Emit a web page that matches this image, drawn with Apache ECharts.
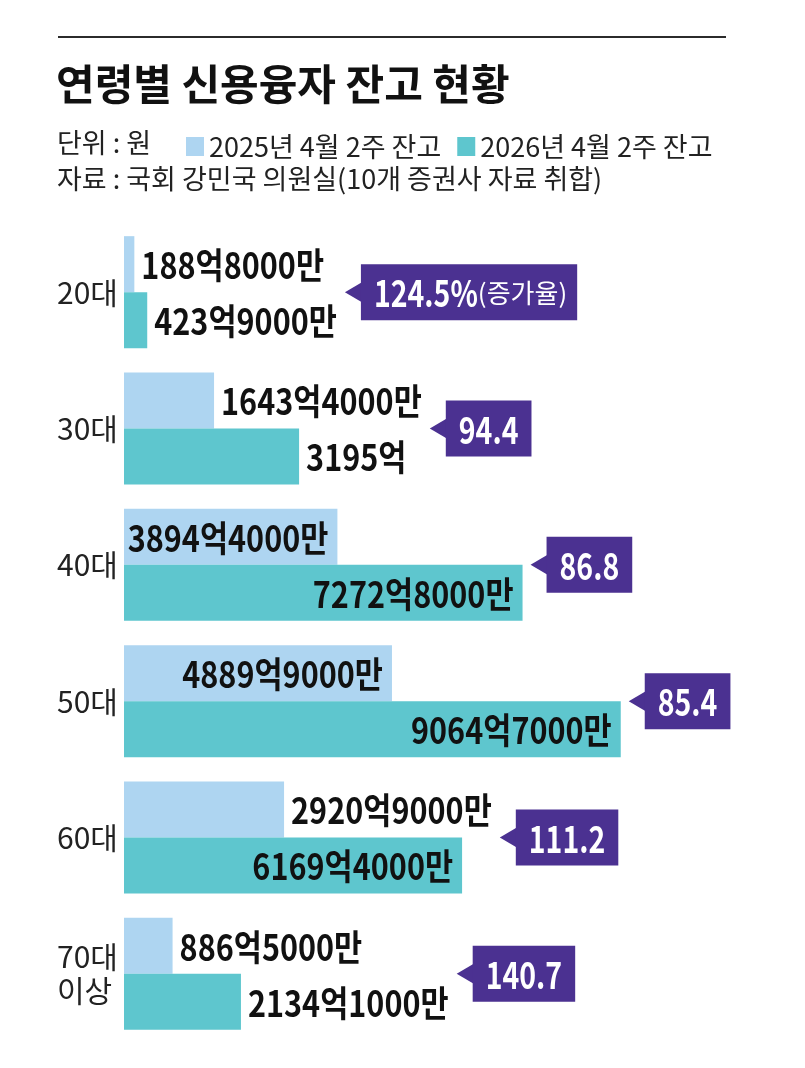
<!DOCTYPE html>
<html>
<head>
<meta charset="utf-8">
<script src="https://cdn.jsdelivr.net/npm/echarts@6/dist/echarts.min.js"></script>
<style>
html,body{margin:0;padding:0;background:#fff;}
#chart{width:805px;height:1068px;}
</style>
</head>
<body>
<div id="chart"></div>
<script>
const categories = ['20대', '30대', '40대', '50대', '60대', '70대\n이상'];
const seriesNames = ['2025년 4월 2주 잔고', '2026년 4월 2주 잔고'];
const balance2025 = [188.8, 1643.4, 3894.4, 4889.9, 2920.9, 886.5];   // 억원
const balance2026 = [423.9, 3195, 7272.8, 9064.7, 6169.4, 2134.1];    // 억원
const growthRates = [124.5, 94.4, 86.8, 85.4, 111.2, 140.7];          // %

const COLOR_2025 = '#aed5f1';
const COLOR_2026 = '#5ec6ce';
const PURPLE = '#4b3191';
const KR_FAMILY = '"Noto Sans CJK KR", sans-serif';
const BAR_W = 56;
const LABEL_SIZE = 36;
const LABEL_SCALE = 0.85;
const LABEL_FONT = 'bold ' + LABEL_SIZE + 'px ' + KR_FAMILY;
const CALL_SIZE = 37;
const CALL_SCALE = 0.77;
const CALL_FONT = 'bold ' + CALL_SIZE + 'px ' + KR_FAMILY;
const SUB_FONT = 'normal 26px ' + KR_FAMILY;
const INSIDE_MIN = 3500;
const GAP_OUT = 7;
const GAP_IN = 9;

const mctx = document.createElement('canvas').getContext('2d');
function textWidth(t, font) { mctx.font = font; return mctx.measureText(t).width; }

function fmtEok(v) {
  const eok = Math.floor(v);
  const man = Math.round((v - eok) * 10000);
  return eok + '억' + (man ? man + '만' : '');
}

const chart = echarts.init(document.getElementById('chart'), null, { renderer: 'canvas' });

function makeLabelRenderer(k) {
  return function (params, api) {
    const v = api.value(0);
    const idx = api.value(1);
    const yc = api.coord([0, idx])[1] + (k === 0 ? -BAR_W / 2 : BAR_W / 2) + 1;
    const xEnd = api.coord([v, idx])[0];
    const inside = v >= INSIDE_MIN;
    return {
      type: 'text',
      x: inside ? xEnd - GAP_IN : xEnd + GAP_OUT,
      y: yc,
      scaleX: LABEL_SCALE,
      style: {
        text: fmtEok(v),
        font: LABEL_FONT,
        fill: '#111',
        align: inside ? 'right' : 'left',
        verticalAlign: 'middle'
      }
    };
  };
}

function renderCallout(params, api) {
  const idx = api.value(1);
  const rate = api.value(2);
  const y = api.coord([0, idx])[1];
  let right = 0;
  [balance2025[idx], balance2026[idx]].forEach(v => {
    const end = api.coord([v, idx])[0];
    const r = v >= INSIDE_MIN ? end : end + GAP_OUT + textWidth(fmtEok(v), LABEL_FONT) * LABEL_SCALE;
    right = Math.max(right, r);
  });
  const tipX = right + 8;
  const arrowW = 16, arrowH = 10, boxH = 56, padL = 13, padR = 13;
  const mainText = rate.toFixed(1) + (idx === 0 ? '%' : '');
  const subText = idx === 0 ? '(증가율)' : '';
  const mainW = textWidth(mainText, CALL_FONT) * CALL_SCALE;
  const subW = subText ? textWidth(subText, SUB_FONT) : 0;
  const x0 = tipX + arrowW;
  const boxW = mainW + subW + padL + padR - (subText ? 3 : 0);
  const children = [
    { type: 'polygon', shape: { points: [[tipX, y], [x0 + 1, y - arrowH], [x0 + 1, y + arrowH]] }, style: { fill: PURPLE } },
    { type: 'rect', shape: { x: x0, y: y - boxH / 2, width: boxW, height: boxH }, style: { fill: PURPLE } },
    {
      type: 'text', x: x0 + padL, y: y + 1, scaleX: CALL_SCALE,
      style: { text: mainText, font: CALL_FONT, fill: '#fff', align: 'left', verticalAlign: 'middle' }
    }
  ];
  if (subText) {
    children.push({
      type: 'text', x: x0 + padL + mainW, y: y + 1,
      style: { text: subText, font: SUB_FONT, fill: '#fff', align: 'left', verticalAlign: 'middle' }
    });
  }
  return { type: 'group', children: children };
}

const option = {
  animation: false,
  backgroundColor: '#fff',
  graphic: [
    { type: 'line', shape: { x1: 58, y1: 37, x2: 726, y2: 37 }, style: { stroke: '#2b2b2b', lineWidth: 2 } },
    { type: 'text', left: 56, top: 63, style: { text: '연령별 신용융자 잔고 현황', fontFamily: KR_FAMILY, fontWeight: 'bold', fontSize: 42, fill: '#111' } },
    { type: 'text', left: 57, top: 129, style: { text: '단위 : 원', fontFamily: KR_FAMILY, fontSize: 27, fill: '#222' } },
    { type: 'text', left: 57, top: 165, style: { text: '자료 : 국회 강민국 의원실(10개 증권사 자료 취합)', fontFamily: KR_FAMILY, fontSize: 27, fill: '#222' } }
  ],
  legend: {
    left: 186, top: 133, padding: 0,
    icon: 'rect', itemWidth: 18, itemHeight: 19, itemGap: 16,
    selectedMode: false,
    data: seriesNames,
    textStyle: { fontFamily: KR_FAMILY, fontSize: 27, color: '#222', lineHeight: 19 }
  },
  grid: { left: 124, top: 224, width: 548, height: 818, containLabel: false },
  xAxis: { type: 'value', min: 0, max: 10000, show: false },
  yAxis: {
    type: 'category', data: categories, inverse: true,
    axisLine: { show: false }, axisTick: { show: false }, splitLine: { show: false },
    axisLabel: { align: 'left', margin: 67, fontFamily: KR_FAMILY, fontSize: 30, color: '#222', lineHeight: 34 }
  },
  series: [
    { name: seriesNames[0], type: 'bar', data: balance2025, barWidth: BAR_W, barGap: '0%', itemStyle: { color: COLOR_2025 } },
    { name: seriesNames[1], type: 'bar', data: balance2026, barWidth: BAR_W, barGap: '0%', itemStyle: { color: COLOR_2026 } },
    {
      type: 'custom', coordinateSystem: 'cartesian2d', clip: false, z: 5, silent: true,
      encode: { x: 0, y: 1 },
      data: balance2025.map((v, i) => [v, i]),
      renderItem: makeLabelRenderer(0)
    },
    {
      type: 'custom', coordinateSystem: 'cartesian2d', clip: false, z: 5, silent: true,
      encode: { x: 0, y: 1 },
      data: balance2026.map((v, i) => [v, i]),
      renderItem: makeLabelRenderer(1)
    },
    {
      type: 'custom', coordinateSystem: 'cartesian2d', clip: false, z: 10, silent: true,
      encode: { x: 0, y: 1 },
      data: growthRates.map((g, i) => [0, i, g]),
      renderItem: renderCallout
    }
  ]
};
chart.setOption(option);
</script>
</body>
</html>
